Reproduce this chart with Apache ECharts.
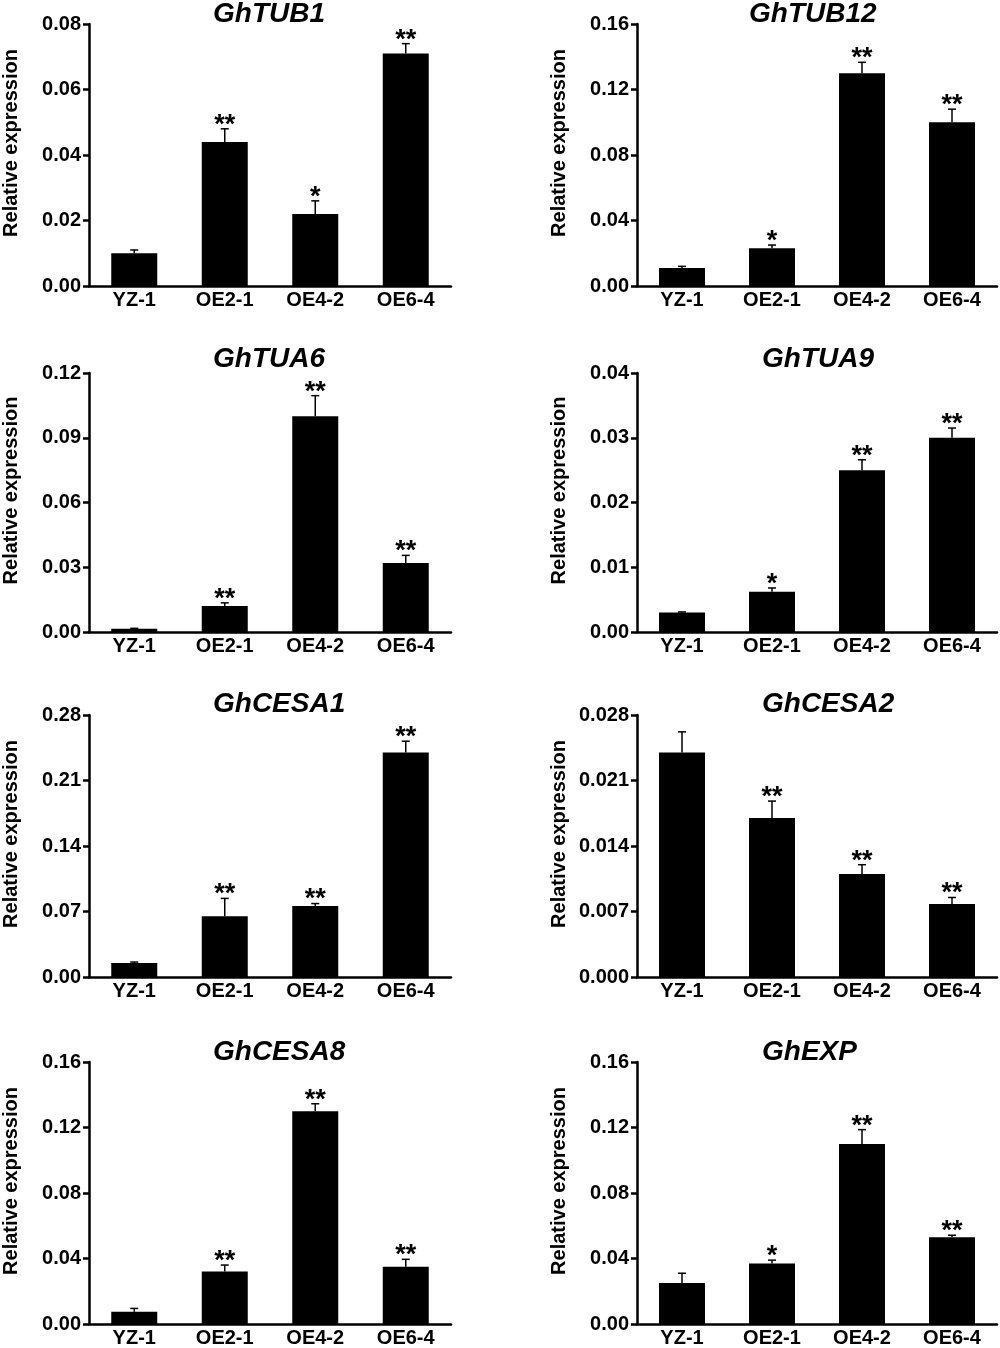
<!DOCTYPE html>
<html>
<head>
<meta charset="utf-8">
<script src="https://cdn.jsdelivr.net/npm/echarts@6/dist/echarts.min.js"></script>
<style>
  html, body { margin: 0; padding: 0; background: #fff; }
  #chart { width: 1000px; height: 1348px; }
</style>
</head>
<body>
<div id="chart"></div>
<script>
const categories = ['YZ-1', 'OE2-1', 'OE4-2', 'OE6-4'];
const genes = ['GhTUB1', 'GhTUB12', 'GhTUA6', 'GhTUA9', 'GhCESA1', 'GhCESA2', 'GhCESA8', 'GhEXP'];

// mean / SD / significance per gene
const tub1Mean = [0.010, 0.044, 0.022, 0.071];
const tub1Err = [0.001, 0.004, 0.004, 0.003];
const tub1Sig = ['', '**', '*', '**'];

const tub12Mean = [0.011, 0.023, 0.130, 0.100];
const tub12Err = [0.001, 0.002, 0.0066, 0.008];
const tub12Sig = ['', '*', '**', '**'];

const tua6Mean = [0.0015, 0.012, 0.100, 0.032];
const tua6Err = [0.0002, 0.0015, 0.0095, 0.0035];
const tua6Sig = ['', '**', '**', '**'];

const tua9Mean = [0.003, 0.0062, 0.025, 0.030];
const tua9Err = [0.0001, 0.0006, 0.0016, 0.0015];
const tua9Sig = ['', '*', '**', '**'];

const cesa1Mean = [0.015, 0.065, 0.076, 0.240];
const cesa1Err = [0.001, 0.019, 0.0025, 0.012];
const cesa1Sig = ['', '**', '**', '**'];

const cesa2Mean = [0.024, 0.017, 0.011, 0.0078];
const cesa2Err = [0.0022, 0.0018, 0.001, 0.0007];
const cesa2Sig = ['', '**', '**', '**'];

const cesa8Mean = [0.0075, 0.032, 0.130, 0.035];
const cesa8Err = [0.002, 0.004, 0.0045, 0.0045];
const cesa8Sig = ['', '**', '**', '**'];

const expMean = [0.025, 0.037, 0.110, 0.053];
const expErr = [0.006, 0.002, 0.0087, 0.0012];
const expSig = ['', '*', '**', '**'];

// y axis range / tick step / decimals of tick labels
const yMax = [0.08, 0.16, 0.12, 0.04, 0.28, 0.028, 0.16, 0.16];
const yStep = [0.02, 0.04, 0.03, 0.01, 0.07, 0.007, 0.04, 0.04];
const yDecimals = [2, 2, 2, 2, 2, 3, 2, 2];

const means = [tub1Mean, tub12Mean, tua6Mean, tua9Mean, cesa1Mean, cesa2Mean, cesa8Mean, expMean];
const errs = [tub1Err, tub12Err, tua6Err, tua9Err, cesa1Err, cesa2Err, cesa8Err, expErr];
const sigs = [tub1Sig, tub12Sig, tua6Sig, tua9Sig, cesa1Sig, cesa2Sig, cesa8Sig, expSig];

// panel layout
const colLeft = [88, 637];
const colWidth = [363, 360];
const rowTop = [24, 373, 715, 1062];
const rowBottom = [286, 632, 977, 1325];
const titleTop = [0, 345, 690, 1038];
const titleLeft = [213, 749, 213, 762, 213, 762, 213, 762];

const FONT = 'Arial, "Liberation Sans", Helvetica, sans-serif';

const chart = echarts.init(document.getElementById('chart'));

const grid = [], xAxis = [], yAxis = [], series = [], title = [];

genes.forEach(function (gene, i) {
  const col = i % 2;
  const row = Math.floor(i / 2);

  grid.push({
    left: colLeft[col],
    top: rowTop[row],
    width: colWidth[col],
    height: rowBottom[row] - rowTop[row]
  });

  title.push({
    text: gene,
    left: titleLeft[i],
    top: titleTop[row],
    padding: 0,
    textStyle: {
      fontFamily: FONT,
      fontSize: 28,
      fontWeight: 'bold',
      fontStyle: 'italic',
      color: '#000'
    }
  });

  xAxis.push({
    type: 'category',
    gridIndex: i,
    data: categories,
    axisTick: { show: false },
    axisLine: { show: true, lineStyle: { color: '#000', width: 2.5 } },
    axisLabel: {
      color: '#000',
      fontFamily: FONT,
      fontSize: 20,
      fontWeight: 'bold',
      margin: 4
    }
  });

  yAxis.push({
    type: 'value',
    gridIndex: i,
    min: 0,
    max: yMax[i],
    interval: yStep[i],
    name: 'Relative expression',
    nameLocation: 'middle',
    nameGap: 68,
    nameTextStyle: {
      color: '#000',
      fontFamily: FONT,
      fontSize: 20,
      fontWeight: 'bold',
      padding: [0, 0, 0, 24]
    },
    splitLine: { show: false },
    axisLine: { show: true, lineStyle: { color: '#000', width: 2.5 } },
    axisTick: { show: true, length: 6, lineStyle: { color: '#000', width: 2.5 } },
    axisLabel: {
      color: '#000',
      fontFamily: FONT,
      fontSize: 20,
      fontWeight: 'bold',
      margin: 8,
      formatter: function (v) { return v.toFixed(yDecimals[i]); }
    }
  });

  series.push({
    type: 'bar',
    xAxisIndex: i,
    yAxisIndex: i,
    data: means[i],
    barWidth: 46,
    itemStyle: { color: '#000' },
    silent: true
  });

  // error bars (upper half only) + significance stars
  series.push({
    type: 'custom',
    xAxisIndex: i,
    yAxisIndex: i,
    silent: true,
    z: 5,
    data: means[i].map(function (m, k) { return [k, m, errs[i][k]]; }),
    renderItem: function (params, api) {
      const k = api.value(0);
      const m = api.value(1);
      const e = api.value(2);
      const base = api.coord([k, m]);
      const top = api.coord([k, m + e]);
      const cap = 4;
      return {
        type: 'group',
        children: [
          {
            type: 'line',
            shape: { x1: base[0], y1: base[1], x2: top[0], y2: top[1] },
            style: { stroke: '#000', lineWidth: 1.5 }
          },
          {
            type: 'line',
            shape: { x1: top[0] - cap, y1: top[1], x2: top[0] + cap, y2: top[1] },
            style: { stroke: '#000', lineWidth: 1.5 }
          },
          {
            type: 'text',
            style: {
              text: sigs[i][params.dataIndex],
              x: top[0],
              y: top[1] + 10,
              align: 'center',
              verticalAlign: 'bottom',
              fontFamily: FONT,
              fontSize: 27,
              fontWeight: 'bold',
              fill: '#000'
            }
          }
        ]
      };
    }
  });
});

chart.setOption({
  backgroundColor: '#fff',
  animation: false,
  title: title,
  grid: grid,
  xAxis: xAxis,
  yAxis: yAxis,
  series: series
});
</script>
</body>
</html>
